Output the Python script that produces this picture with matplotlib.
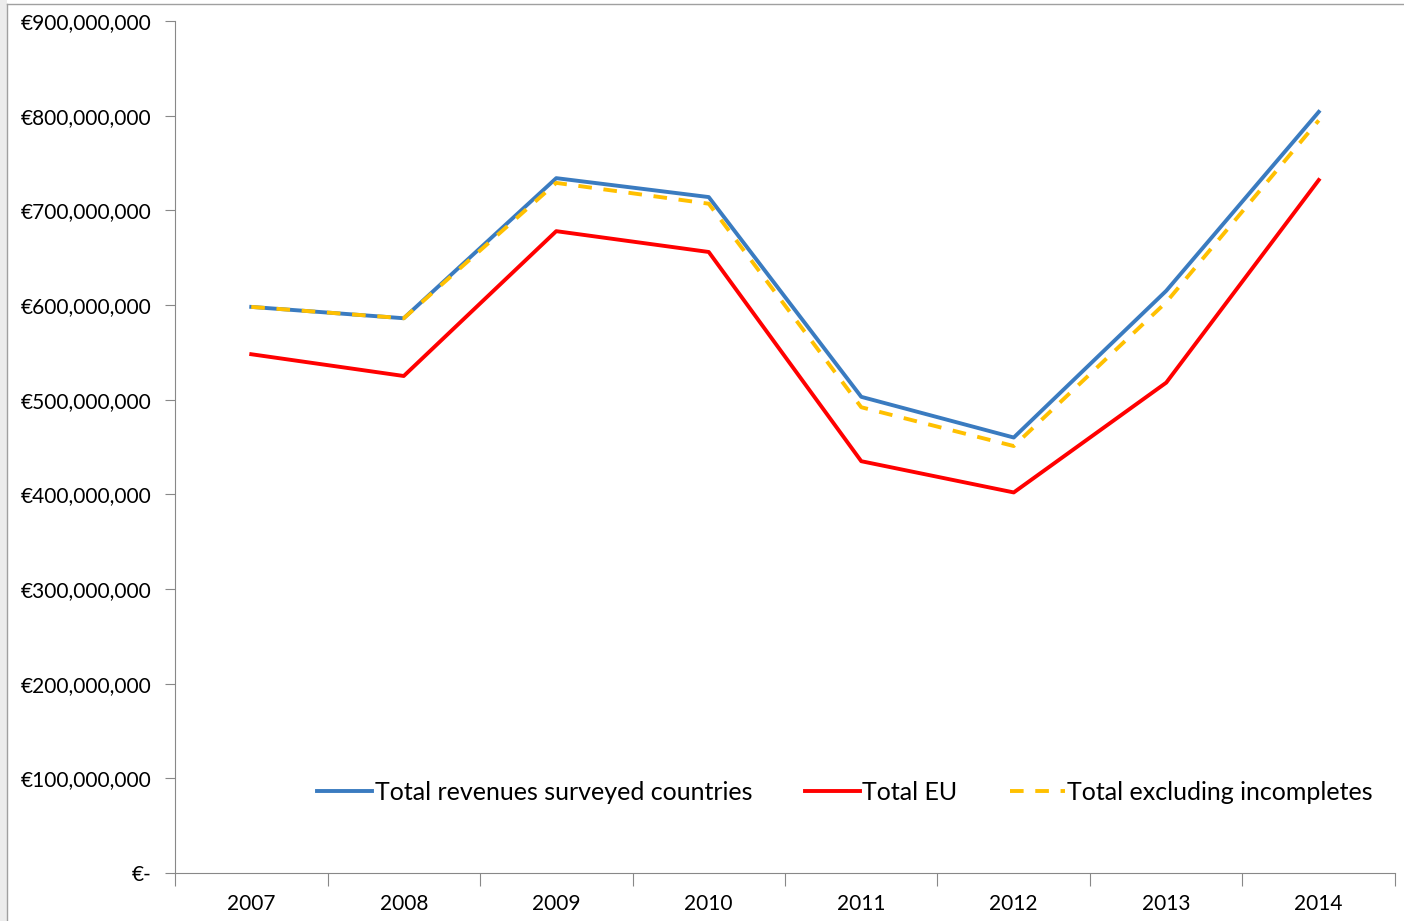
import matplotlib.pyplot as plt
import matplotlib.ticker as mticker
from matplotlib.patches import Rectangle
from matplotlib.lines import Line2D

plt.rcParams["font.family"] = ["Lato", "DejaVu Sans"]

years = ["2007", "2008", "2009", "2010", "2011", "2012", "2013", "2014"]
total_surveyed = [598e6, 586e6, 734e6, 714e6, 503e6, 460e6, 615e6, 804e6]
total_eu = [548e6, 525e6, 678e6, 656e6, 435e6, 402e6, 518e6, 732e6]
total_excl = [598e6, 586e6, 729e6, 707e6, 492e6, 451e6, 603e6, 795e6]

fig = plt.figure(figsize=(14.04, 9.21), dpi=100)
# window-like border
fig.patches.append(Rectangle((0, 0), 7/1404, 1, transform=fig.transFigure,
                             facecolor="#ececec", edgecolor="none"))
fig.lines.append(Line2D([7/1404, 7/1404], [0, 1 - 4/921], transform=fig.transFigure,
                        color="#a0a0a0", lw=1))
fig.lines.append(Line2D([7/1404, 1], [1 - 4/921, 1 - 4/921], transform=fig.transFigure,
                        color="#a0a0a0", lw=1))

ax = fig.add_axes([175/1404, 1 - 873/921, 1220/1404, 852/921])
x = range(len(years))
ax.plot(x, total_surveyed, color="#3a7bc0", lw=2.8, label="Total revenues surveyed countries")
ax.plot(x, total_eu, color="#ff0000", lw=2.8, label="Total EU")
ax.plot(x, total_excl, color="#ffc000", lw=2.8, ls=(0, (3.5, 3)), label="Total excluding incompletes")

ax.set_xlim(-0.5, len(years) - 0.5)
ax.set_ylim(0, 900e6)
ax.yaxis.set_major_locator(mticker.MultipleLocator(100e6))
ax.yaxis.set_major_formatter(mticker.FuncFormatter(
    lambda v, p: "€-" if v == 0 else "€{:,.0f}".format(v)))
ax.set_xticks([i + 0.5 for i in range(-1, len(years))])
ax.set_xticklabels([])
ax.set_xticks(list(x), minor=True)
ax.set_xticklabels(years, minor=True)
ax.tick_params(axis="x", which="minor", length=0, labelsize=15, pad=15)
ax.tick_params(axis="x", which="major", length=9, color="#888888", direction="out")
ax.tick_params(axis="y", length=7, color="#888888", labelsize=15, pad=10)

for s in ["top", "right"]:
    ax.spines[s].set_visible(False)
ax.spines["left"].set_color("#888888")
ax.spines["bottom"].set_color("#888888")

ax.legend(loc="center left", bbox_to_anchor=(0.098, 0.095), ncol=3, frameon=False,
          fontsize=18, handlelength=2.2, handletextpad=0.1, columnspacing=2.1)

plt.savefig("out.png", dpi=100)
